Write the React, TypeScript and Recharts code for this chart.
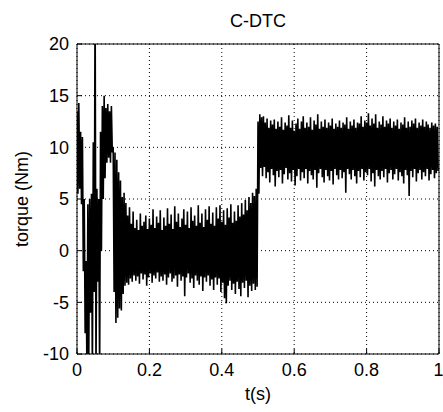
import React from "react";
import { LineChart, Line, XAxis, YAxis, CartesianGrid } from "recharts";

// sample step (s); each step holds one upper and one lower excursion
const step = 0.005;

// start-up transient, t = 0 .. 0.095
const transientHi = [13.5, 14.3, 11.5, 11, 5, -1, 4.5, 5, 5.5, 10.5, 25, 6, 5, 11.5, 14, 15, 13.8, 14.2, 13.5, 14];
const transientLo = [5.5, 6, 4.5, -2, -8, -12, -10.5, -6, -12, -4, -12, -3, -12, 0, 5, 7, 8.5, 9, 8.5, 9.5];

// no-load region, t = 0.1 .. 0.495
const zeroHi = [
  10, 9.5, 8.8, 7.6, 6.8, 5.2, 5.6, 4.6, 3.4, 4.2,
  2.6, 3.8, 2.2, 3.0, 2.0, 3.6, 2.4, 2.8, 3.4, 2.1,
  3.1, 2.5, 4.0, 2.2, 3.3, 2.7, 3.9, 2.0, 3.2, 2.4,
  4.1, 2.6, 3.5, 2.1, 4.3, 2.8, 3.6, 2.3, 3.1, 4.0,
  2.5, 3.8, 2.2, 4.2, 2.9, 3.4, 2.4, 4.4, 2.7, 3.6,
  2.3, 4.0, 3.0, 4.3, 2.6, 3.7, 2.4, 4.2, 3.1, 4.4,
  2.8, 3.9, 2.5, 4.1, 3.2, 4.5, 2.7, 3.8, 2.9, 4.4,
  3.3, 4.6, 3.5, 4.9, 3.9, 5.2, 4.6, 5.6, 5.3, 6.0,
];
const zeroLo = [
  -4, -7, -6.5, -5.6, -5.8, -4.2, -3.4, -3.1, -3.3, -2.7,
  -3.0, -2.4, -2.9, -2.5, -3.2, -2.2, -2.8, -2.3, -3.4, -2.6,
  -2.2, -3.1, -2.4, -2.7, -2.1, -3.0, -2.5, -2.9, -2.3, -3.3,
  -2.6, -2.2, -3.0, -2.7, -2.4, -3.5, -2.3, -2.9, -2.5, -4.4,
  -2.6, -2.2, -3.1, -2.7, -3.6, -2.4, -2.9, -3.3, -2.5, -3.9,
  -2.6, -3.0, -2.4, -3.4, -2.8, -3.8, -2.6, -3.3, -2.7, -4.0,
  -3.1, -4.6, -5.1, -3.4, -2.9, -3.8, -3.2, -4.2, -3.0, -3.7,
  -4.4, -3.1, -3.6, -2.9, -4.5, -3.4, -3.9, -3.2, -3.8, -3.5,
];

// loaded region, t = 0.5 .. 0.995
const loadHi = [
  12.5, 13.2, 12.9, 13.0, 12.4, 12.8, 11.9, 12.6, 12.2, 12.7,
  11.8, 12.5, 12.0, 12.9, 11.7, 12.4, 12.1, 13.1, 11.9, 12.6,
  11.6, 12.3, 12.8, 11.8, 12.5, 13.0, 11.9, 12.4, 12.0, 12.9,
  11.7, 12.6, 12.2, 13.2, 11.8, 12.5, 12.0, 12.7, 11.9, 12.4,
  12.1, 12.8, 11.8, 12.3, 12.0, 12.6, 11.9, 12.4, 12.2, 12.9,
  11.8, 12.5, 12.1, 12.7, 11.9, 12.4, 12.3, 13.0, 12.0, 12.6,
  12.4, 13.3, 12.1, 12.8, 12.3, 13.2, 11.9, 12.5, 12.2, 13.0,
  12.0, 12.6, 12.3, 12.8, 11.9, 12.5, 12.1, 12.7, 11.8, 12.4,
  12.2, 12.9, 11.9, 12.5, 12.0, 12.6, 12.3, 12.8, 11.9, 12.4,
  12.1, 12.7, 12.0, 12.5, 12.2, 11.9, 12.4, 12.1, 12.3, 12.0,
];
const loadLo = [
  5.5, 8.0, 7.2, 8.1, 7.0, 7.6, 6.6, 7.9, 7.3, 6.2,
  7.7, 7.1, 7.8, 6.5, 7.4, 8.0, 6.9, 7.5, 6.7, 7.8,
  6.3, 7.2, 7.9, 6.8, 7.6, 7.0, 7.9, 6.5, 7.7, 7.3,
  6.9, 7.8, 6.1, 7.5, 7.9, 7.1, 6.6, 7.8, 7.2, 6.8,
  7.7, 6.4, 7.9, 7.3, 6.9, 7.8, 7.0, 7.6, 5.6, 7.9,
  7.4, 6.9, 7.8, 7.2, 6.5, 7.7, 7.1, 7.9, 6.8, 7.6,
  7.3, 7.9, 6.7, 7.5, 6.2, 7.8, 7.2, 6.9, 7.7, 7.1,
  7.9, 6.6, 7.5, 7.8, 6.9, 7.4, 7.9, 6.8, 7.6, 7.2,
  6.5, 7.8, 7.3, 5.3, 7.7, 7.1, 7.9, 6.7, 7.5, 7.8,
  6.9, 7.6, 7.2, 7.9, 6.8, 7.4, 7.8, 7.0, 7.5, 7.7,
];

const xTicks = [0, 0.2, 0.4, 0.6, 0.8, 1];
const yTicks = [-10, -5, 0, 5, 10, 15, 20];

const hi = [...transientHi, ...zeroHi, ...loadHi];
const lo = [...transientLo, ...zeroLo, ...loadLo];

const data: { t: number; torque: number }[] = [];
hi.forEach((h, i) => {
  data.push({ t: i * step, torque: h });
  data.push({ t: i * step + step / 2, torque: lo[i] });
});

const font = "'Liberation Sans', Arial, sans-serif";
const fs = 18;
const tickStyle = { fill: "#000", fontSize: fs, fontFamily: font };

export default function App() {
  return (
    <div style={{ position: "absolute", left: 0, top: 0, background: "#fff" }}>
      <LineChart width={443} height={412} data={data} margin={{ top: 43, right: 3, bottom: 0, left: 0 }}>
        <CartesianGrid stroke="#000" strokeDasharray="1 3" />
        <XAxis
          dataKey="t"
          type="number"
          domain={[0, 1]}
          ticks={xTicks}
          allowDataOverflow
          height={58}
          stroke="#000"
          tickSize={-5}
          tickMargin={14}
          tick={tickStyle}
          label={{ value: "t(s)", position: "insideBottom", offset: 12, fill: "#000", fontSize: fs, fontFamily: font }}
        />
        <XAxis
          xAxisId="top"
          orientation="top"
          dataKey="t"
          type="number"
          domain={[0, 1]}
          ticks={xTicks}
          allowDataOverflow
          height={1}
          stroke="#000"
          tickSize={-5}
          tick={false}
          label={{ value: "C-DTC", position: "top", offset: 16, fill: "#000", fontSize: fs, fontFamily: font }}
        />
        <YAxis
          type="number"
          domain={[-10, 20]}
          ticks={yTicks}
          allowDataOverflow
          width={77}
          stroke="#000"
          tickSize={-5}
          tickMargin={13}
          tick={tickStyle}
          label={{
            value: "torque (Nm)",
            angle: -90,
            position: "insideLeft",
            offset: 22,
            fill: "#000",
            fontSize: fs,
            fontFamily: font,
            style: { textAnchor: "middle" },
          }}
        />
        <YAxis
          yAxisId="right"
          orientation="right"
          type="number"
          domain={[-10, 20]}
          ticks={yTicks}
          allowDataOverflow
          width={1}
          stroke="#000"
          tickSize={-5}
          tick={false}
        />
        <Line
          type="linear"
          dataKey="torque"
          stroke="#000"
          strokeWidth={1.6}
          dot={false}
          isAnimationActive={false}
        />
      </LineChart>
    </div>
  );
}
